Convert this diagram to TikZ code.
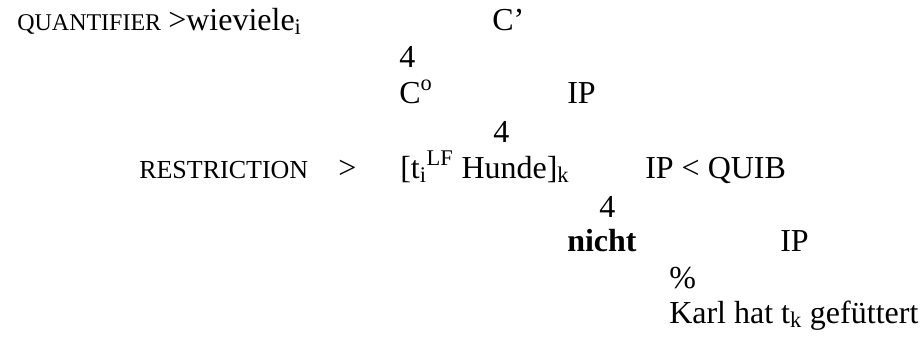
\documentclass[tikz,border=0pt]{standalone}
\usepackage{fontspec}
\setmainfont{Liberation Serif}
\begin{document}
\begin{tikzpicture}[x=0.75pt,y=-0.75pt,
  txt/.style={anchor=base west, inner sep=0pt, font=\rmfamily\fontsize{24}{28}\selectfont},
  smlq/.style={anchor=base west, inner sep=0pt, font=\rmfamily\fontsize{18}{22}\selectfont},
  smlr/.style={anchor=base west, inner sep=0pt, font=\rmfamily\fontsize{19.5}{22}\selectfont}]
\useasboundingbox (0,0) rectangle (923,339);
% row 1
\node[smlq] (quant) at (17,30) {QUANTIFIER};
\node[txt] (wv) at (168,30) {>wieviele\textsubscript{i}};
\node[txt] (cbar) at (492,30) {C’};
% row 2
\node[txt] (f1) at (399,67) {4};
% row 3
\node[txt] (czero) at (399,103) {C\textsuperscript{o}};
\node[txt] (ip1) at (567,103) {IP};
% row 4
\node[txt] (f2) at (493,142) {4};
% row 5
\node[smlr] (restr) at (139,178) {RESTRICTION};
\node[txt] (gt) at (338,178) {>};
\node[txt] (hunde) at (400,178) {[t\textsubscript{i}\textsuperscript{LF} Hunde]\textsubscript{k}};
\node[txt] (ip2) at (645,178) {IP < QUIB};
% row 6
\node[txt] (f3) at (599,217) {4};
% row 7
\node[txt] (nicht) at (567,251) {\bfseries nicht};
\node[txt] (ip3) at (780,251) {IP};
% row 8
\node[txt] (pct) at (669,288) {\%};
% row 9
\node[txt] (karl) at (669,323) {Karl hat t\textsubscript{k} gefüttert};
\end{tikzpicture}
\end{document}
